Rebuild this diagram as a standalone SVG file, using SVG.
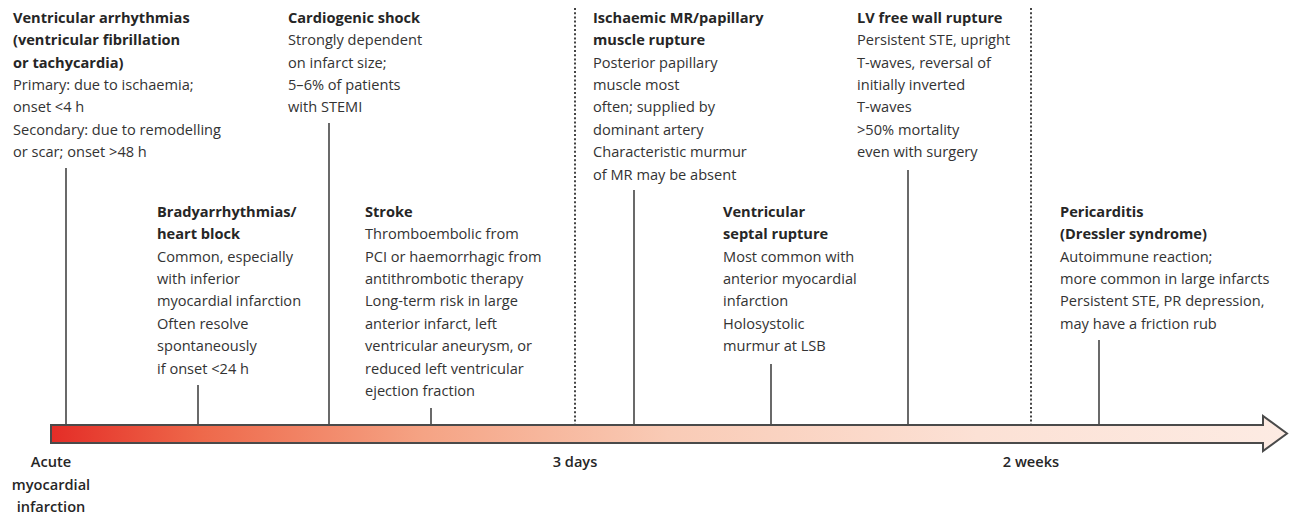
<svg xmlns="http://www.w3.org/2000/svg" width="1295" height="518" viewBox="0 0 1295 518">
<defs>
<linearGradient id="bar" x1="51" y1="0" x2="1287" y2="0" gradientUnits="userSpaceOnUse">
<stop offset="0" stop-color="#e42d27"/>
<stop offset="0.12" stop-color="#ee684a"/>
<stop offset="0.3" stop-color="#f5a384"/>
<stop offset="0.5" stop-color="#f9cbb6"/>
<stop offset="0.75" stop-color="#fce1d5"/>
<stop offset="1" stop-color="#fdebe3"/>
</linearGradient>
<style>
text{font-family:"Open Sans","Liberation Sans",sans-serif;font-size:14.6px;fill:#333}
.h{font-weight:700;fill:#262626}
.ax{font-weight:600;fill:#262626;text-anchor:middle}
.tick{stroke:#444;stroke-width:1.6;fill:none}
.dot{stroke:#444;stroke-width:2;stroke-dasharray:2 2.2;fill:none}
</style>
</defs>
<rect width="1295" height="518" fill="#fff"/>
<g id="connectors">
<line class="tick" x1="66" y1="168" x2="66" y2="425"/>
<line class="tick" x1="198" y1="385" x2="198" y2="425"/>
<line class="tick" x1="329" y1="123" x2="329" y2="425"/>
<line class="tick" x1="431" y1="408" x2="431" y2="425"/>
<line class="dot" x1="575" y1="8" x2="575" y2="425"/>
<line class="tick" x1="634" y1="190" x2="634" y2="425"/>
<line class="tick" x1="771" y1="364" x2="771" y2="425"/>
<line class="tick" x1="908" y1="170" x2="908" y2="425"/>
<line class="dot" x1="1031" y1="8" x2="1031" y2="425"/>
<line class="tick" x1="1099" y1="340" x2="1099" y2="425"/>
</g>
<g id="timeline">
<path d="M51,425 H1263 V416 L1287,433.5 L1263,451 V443 H51 Z" fill="url(#bar)" stroke="#4a4a4a" stroke-width="2" stroke-linejoin="miter"/>
</g>
<g id="axis-labels">
<text class="ax" x="51" y="467">Acute</text>
<text class="ax" x="51" y="490">myocardial</text>
<text class="ax" x="51" y="512">infarction</text>
<text class="ax" x="575" y="467">3 days</text>
<text class="ax" x="1031" y="467">2 weeks</text>
</g>
<g id="ventricular-arrhythmias">
<text class="h" x="13" y="23">Ventricular arrhythmias</text>
<text class="h" x="13" y="45">(ventricular fibrillation</text>
<text class="h" x="13" y="68">or tachycardia)</text>
<text x="13" y="90">Primary: due to ischaemia;</text>
<text x="13" y="112">onset &lt;4 h</text>
<text x="13" y="135">Secondary: due to remodelling</text>
<text x="13" y="157">or scar; onset &gt;48 h</text>
</g>
<g id="cardiogenic-shock">
<text class="h" x="288" y="23">Cardiogenic shock</text>
<text x="288" y="45">Strongly dependent</text>
<text x="288" y="68">on infarct size;</text>
<text x="288" y="90">5–6% of patients</text>
<text x="288" y="112">with STEMI</text>
</g>
<g id="ischaemic-mr">
<text class="h" x="593" y="23">Ischaemic MR/papillary</text>
<text class="h" x="593" y="45">muscle rupture</text>
<text x="593" y="68">Posterior papillary</text>
<text x="593" y="90">muscle most</text>
<text x="593" y="112">often; supplied by</text>
<text x="593" y="135">dominant artery</text>
<text x="593" y="157">Characteristic murmur</text>
<text x="593" y="180">of MR may be absent</text>
</g>
<g id="lv-free-wall-rupture">
<text class="h" x="857" y="23">LV free wall rupture</text>
<text x="857" y="45">Persistent STE, upright</text>
<text x="857" y="68">T-waves, reversal of</text>
<text x="857" y="90">initially inverted</text>
<text x="857" y="112">T-waves</text>
<text x="857" y="135">&gt;50% mortality</text>
<text x="857" y="157">even with surgery</text>
</g>
<g id="bradyarrhythmias">
<text class="h" x="157" y="217">Bradyarrhythmias/</text>
<text class="h" x="157" y="239">heart block</text>
<text x="157" y="262">Common, especially</text>
<text x="157" y="284">with inferior</text>
<text x="157" y="306">myocardial infarction</text>
<text x="157" y="329">Often resolve</text>
<text x="157" y="351">spontaneously</text>
<text x="157" y="374">if onset &lt;24 h</text>
</g>
<g id="stroke">
<text class="h" x="365" y="217">Stroke</text>
<text x="365" y="239">Thromboembolic from</text>
<text x="365" y="262">PCI or haemorrhagic from</text>
<text x="365" y="284">antithrombotic therapy</text>
<text x="365" y="306">Long-term risk in large</text>
<text x="365" y="329">anterior infarct, left</text>
<text x="365" y="351">ventricular aneurysm, or</text>
<text x="365" y="374">reduced left ventricular</text>
<text x="365" y="396">ejection fraction</text>
</g>
<g id="ventricular-septal-rupture">
<text class="h" x="723" y="217">Ventricular</text>
<text class="h" x="723" y="239">septal rupture</text>
<text x="723" y="262">Most common with</text>
<text x="723" y="284">anterior myocardial</text>
<text x="723" y="306">infarction</text>
<text x="723" y="329">Holosystolic</text>
<text x="723" y="351">murmur at LSB</text>
</g>
<g id="pericarditis">
<text class="h" x="1060" y="217">Pericarditis</text>
<text class="h" x="1060" y="239">(Dressler syndrome)</text>
<text x="1060" y="262">Autoimmune reaction;</text>
<text x="1060" y="284">more common in large infarcts</text>
<text x="1060" y="306">Persistent STE, PR depression,</text>
<text x="1060" y="329">may have a friction rub</text>
</g>
</svg>
